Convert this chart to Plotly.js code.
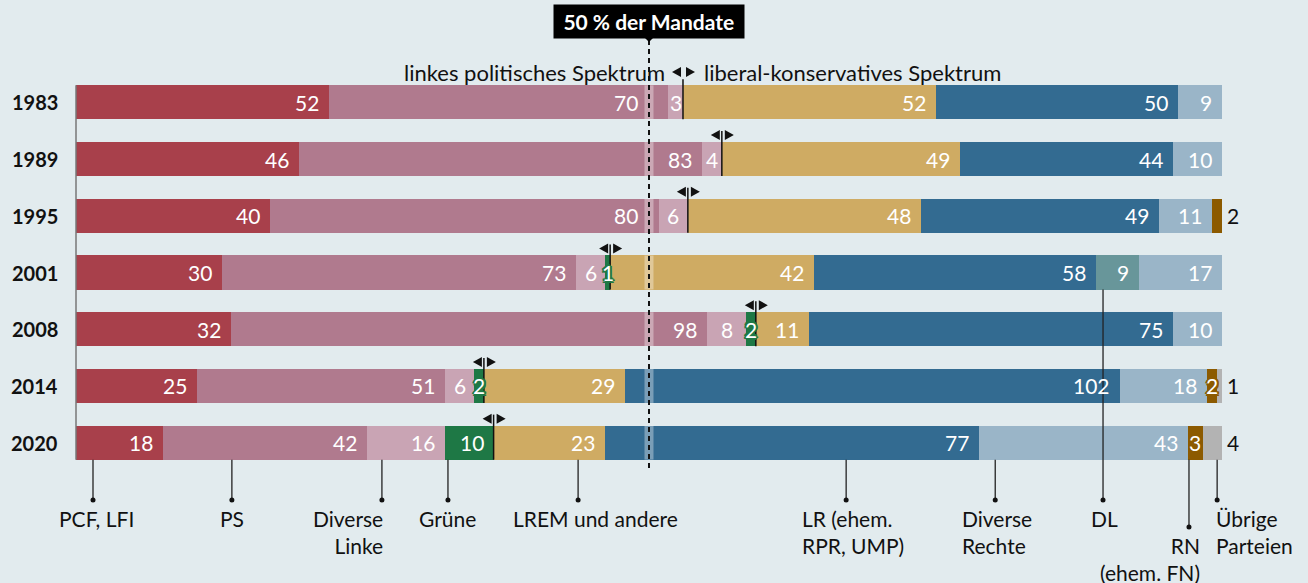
<!DOCTYPE html>
<html><head><meta charset="utf-8">
<script src="https://cdn.plot.ly/plotly-3.0.1.min.js"></script>
<style>html,body{margin:0;padding:0;background:#e2ebee;} #chart{width:1308px;height:583px;}</style>
</head><body><div id="chart"></div>
<script>
// ---- data ----
const years = ['1983','1989','1995','2001','2008','2014','2020'];
const pcfLfi        = [52,46,40,30,32,25,18];
const ps            = [70,83,80,73,98,51,42];
const diverseLinke  = [3,4,6,6,8,6,16];
const gruene        = [0,0,0,1,2,2,10];
const lrem          = [52,49,48,42,11,29,23];
const lr            = [50,44,49,58,75,102,77];
const dl            = [0,0,0,9,0,0,0];
const diverseRechte = [9,10,11,17,10,18,43];
const rn            = [0,0,2,0,0,2,3];
const uebrige       = [0,0,0,0,0,1,4];
const leftSpectrumCount = 4; // PCF/LFI, PS, Diverse Linke, Grüne

// ---- styling / layout ----
const FONT = 'Lato, "Open Sans", sans-serif';
const FS = 21;
const W = 1308, H = 583;
const M = {l:76, r:86, t:74, b:112};
const plotW = W - M.l - M.r, plotH = H - M.t - M.b;
const rowH = plotH / years.length;
const barFrac = 0.6;
const barHalfPx = rowH * barFrac / 2;

const series = [
  {name:'PCF, LFI', values:pcfLfi, color:'#a8404b'},
  {name:'PS', values:ps, color:'#b07a8e'},
  {name:'Diverse Linke', values:diverseLinke, color:'#c9a4b4'},
  {name:'Grüne', values:gruene, color:'#1e7845'},
  {name:'LREM und andere', values:lrem, color:'#cfab63'},
  {name:'LR (ehem. RPR, UMP)', values:lr, color:'#336b91'},
  {name:'DL', values:dl, color:'#68969a'},
  {name:'Diverse Rechte', values:diverseRechte, color:'#9ab5c8'},
  {name:'RN (ehem. FN)', values:rn, color:'#8c5a00'},
  {name:'Übrige Parteien', values:uebrige, color:'#b3b3b3'}
];

const totals = years.map((_,i)=>series.reduce((a,s)=>a+s.values[i],0));
const total = Math.max(...totals);
const half = total/2;
const pxPerSeat = plotW/total;
const py = p => (M.t + plotH - p)/plotH;           // pixel y -> paper y
const rowCenterPx = i => M.t + (i+0.5)*rowH;
const yIdx = years.map((_,i)=>i);

const traces = series.map(s=>({
  type:'bar', orientation:'h', x:s.values, y:yIdx, width:barFrac,
  marker:{color:s.color, line:{width:0}}, name:s.name,
  hoverinfo:'skip', showlegend:false
}));

const annotations = [];
const shapes = [];

// year labels
years.forEach((yr,i)=>{
  annotations.push({xref:'paper', x:0, xanchor:'right', xshift:-16, yref:'y', y:i, yanchor:'middle',
    text:'<b>'+yr+'</b>', showarrow:false, font:{family:FONT,size:20,color:'#111'}});
});

// light band behind 50% line on each bar
years.forEach((yr,i)=>{
  shapes.push({type:'rect', layer:'above', xref:'x', xsizemode:'pixel', xanchor:half, x0:-4.5, x1:4.5,
    yref:'y', y0:i-barFrac/2, y1:i+barFrac/2, fillcolor:'rgba(255,255,255,0.35)', line:{width:0}});
});

// value labels
years.forEach((yr,i)=>{
  let cum = 0;
  const vals = series.map(s=>s.values[i]);
  const lastIdx = vals.reduce((li,v,k)=>v>0?k:li,-1);
  series.forEach((s,k)=>{
    const v = s.values[i], s0 = cum, e = cum+v; cum = e;
    if(!v) return;
    const wpx = v*pxPerSeat;
    const base = {xref:'x', yref:'y', y:i, yanchor:'middle', text:String(v), showarrow:false,
      font:{family:FONT,size:FS,color:'#fff'}};
    if(k===lastIdx && v<=4){
      annotations.push(Object.assign({}, base, {x:e, xanchor:'left', xshift:3, font:{family:FONT,size:FS,color:'#111'}}));
    } else if(v<=2){
      const c = (s0+e)/2;
      const offs = [[-2,0],[2,0],[0,-2],[0,2],[-1.5,-1.5],[1.5,1.5],[-1.5,1.5],[1.5,-1.5]];
      offs.forEach(o=>annotations.push(Object.assign({}, base, {x:c, xanchor:'center', xshift:o[0], yshift:o[1], font:{family:FONT,size:FS,color:s.color}})));
      annotations.push(Object.assign({}, base, {x:c, xanchor:'center'}));
    } else if(s0<half && e>half && (e-half)*pxPerSeat<40){
      annotations.push(Object.assign({}, base, {x:half, xanchor:'right', xshift:-9}));
    } else if(wpx<40){
      annotations.push(Object.assign({}, base, {x:(s0+e)/2, xanchor:'center'}));
    } else {
      annotations.push(Object.assign({}, base, {x:e, xanchor:'right', xshift:-8}));
    }
  });
});

// left axis line
shapes.push({type:'line', layer:'above', xref:'paper', x0:0, x1:0, yref:'y', y0:-barFrac/2, y1:years.length-1+barFrac/2,
  line:{color:'#777', width:1.5}});

// dashed 50% line
shapes.push({type:'line', layer:'above', xref:'x', x0:half, x1:half, yref:'paper', y0:py(40), y1:py(470),
  line:{color:'#111', width:2, dash:'5px,4px'}});

// header box
annotations.push({xref:'x', x:half, yref:'paper', y:py(22), yanchor:'middle', text:'&nbsp;<b>50 % der Mandate</b>&nbsp;',
  showarrow:false, bgcolor:'#000', borderpad:4, font:{family:FONT,size:21,color:'#fff'}});
shapes.push({type:'path', layer:'above', xref:'x', xsizemode:'pixel', xanchor:half, yref:'paper', ysizemode:'pixel', yanchor:py(37),
  path:'M -5,0 L 5,0 L 0,-5 Z', fillcolor:'#000', line:{width:0}});

// spectrum boundary markers
years.forEach((yr,i)=>{
  const b = series.slice(0,leftSpectrumCount).reduce((a,s)=>a+s.values[i],0);
  const first = i===0;
  const c = rowCenterPx(i);
  const arrowY = first ? 72 : c - barHalfPx - 7;          // pixel y of arrow centres
  const lineTop = first ? c - barHalfPx - 6 : c - barHalfPx - 11;
  shapes.push({type:'line', layer:'above', xref:'x', x0:b, x1:b, yref:'paper',
    y0:py(c+barHalfPx), y1:py(lineTop), line:{color:'#111', width:1.5}});
  shapes.push({type:'path', layer:'above', xref:'x', xsizemode:'pixel', xanchor:b, yref:'paper', ysizemode:'pixel', yanchor:py(arrowY),
    path:'M -2,-5 L -2,5 L -11,0 Z', fillcolor:'#111', line:{width:0}});
  shapes.push({type:'path', layer:'above', xref:'x', xsizemode:'pixel', xanchor:b, yref:'paper', ysizemode:'pixel', yanchor:py(arrowY),
    path:'M 3,-5 L 3,5 L 12,0 Z', fillcolor:'#111', line:{width:0}});
  if(first){
    annotations.push({xref:'x', x:b, xanchor:'right', xshift:-16, yref:'paper', y:py(72), yanchor:'middle',
      text:'linkes politisches Spektrum', showarrow:false, font:{family:FONT,size:22,color:'#111'}});
    annotations.push({xref:'x', x:b, xanchor:'left', xshift:19, yref:'paper', y:py(72), yanchor:'middle',
      text:'liberal-konservatives Spektrum', showarrow:false, font:{family:FONT,size:22,color:'#111'}});
  }
});

// bottom legend labels with leader lines
const bottomLabels = [
  {text:'PCF, LFI', at:3.5, row:6, dot:500, anchor:'center', dx:3},
  {text:'PS', at:32.1, row:6, dot:500, anchor:'center', dx:0},
  {text:'Diverse<br>Linke', at:63.0, row:6, dot:500, anchor:'right', dx:3},
  {text:'Grüne', at:76.6, row:6, dot:500, anchor:'center', dx:0},
  {text:'LREM und andere', at:103.4, row:6, dot:500, anchor:'center', dx:17},
  {text:'LR (ehem.<br>RPR, UMP)', at:158.6, row:6, dot:500, anchor:'left', dx:-46},
  {text:'Diverse<br>Rechte', at:189.3, row:6, dot:500, anchor:'left', dx:-35},
  {text:'DL', at:211.5, row:3, dot:500, anchor:'center', dx:1},
  {text:'RN<br>(ehem. FN)', at:229.2, row:6, dot:527, anchor:'right', dx:13},
  {text:'Übrige<br>Parteien', at:235.0, row:6, dot:500, anchor:'left', dx:-3}
];
bottomLabels.forEach(L=>{
  const y0px = rowCenterPx(L.row)+barHalfPx;
  shapes.push({type:'line', layer:'above', xref:'x', x0:L.at, x1:L.at, yref:'paper', y0:py(y0px), y1:py(L.dot),
    line:{color:'#222', width:1.3}});
  shapes.push({type:'circle', layer:'above', xref:'x', xsizemode:'pixel', xanchor:L.at, x0:-2.5, x1:2.5,
    yref:'paper', ysizemode:'pixel', yanchor:py(L.dot), y0:-2.5, y1:2.5, fillcolor:'#111', line:{width:0}});
  annotations.push({xref:'x', x:L.at, xanchor:L.anchor, xshift:L.dx, align:L.anchor==='center'?'center':L.anchor,
    yref:'paper', y:py(L.dot+4), yanchor:'top', text:L.text, showarrow:false,
    font:{family:FONT,size:FS,color:'#111'}});
});

const layout = {
  width:W, height:H, margin:M, barmode:'stack', bargap:0,
  paper_bgcolor:'#e2ebee', plot_bgcolor:'#e2ebee',
  xaxis:{range:[0,total], visible:false, fixedrange:true},
  yaxis:{range:[years.length-0.5,-0.5], visible:false, fixedrange:true},
  showlegend:false, font:{family:FONT,size:FS,color:'#111'},
  annotations, shapes
};
Plotly.newPlot('chart', traces, layout, {displayModeBar:false, staticPlot:true});
</script>
</body></html>
